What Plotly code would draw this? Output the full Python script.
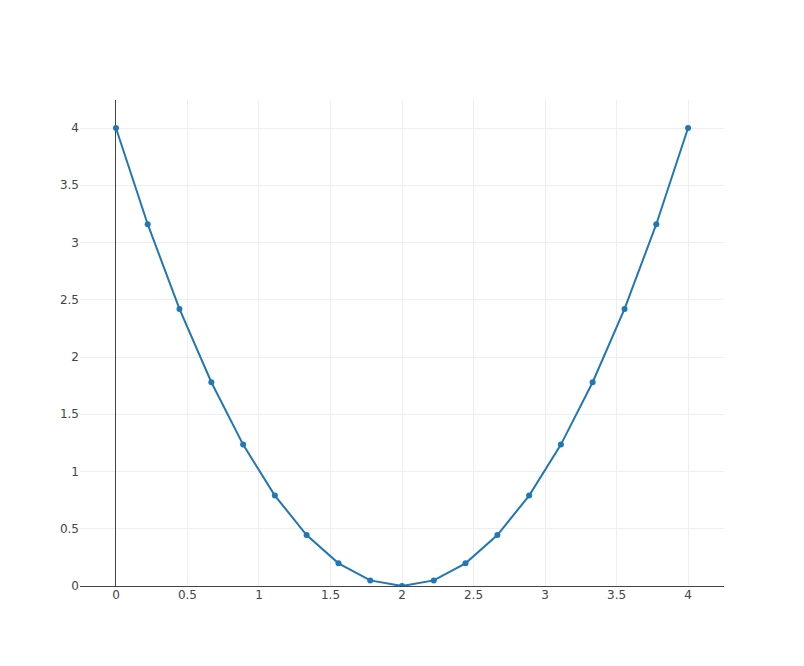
import plotly.graph_objects as go

x_values = [0, 0.222, 0.444, 0.667, 0.889, 1.111, 1.333, 1.556, 1.778, 2,
            2.222, 2.444, 2.667, 2.889, 3.111, 3.333, 3.556, 3.778, 4]
y_values = [4, 3.16, 2.42, 1.78, 1.235, 0.79, 0.445, 0.198, 0.049, 0,
            0.049, 0.198, 0.445, 0.79, 1.235, 1.78, 2.42, 3.16, 4]

fig = go.Figure(go.Scatter(x=x_values, y=y_values, mode="lines+markers"))
fig.update_layout(
    template="none",
    width=788, height=650,
    margin=dict(l=72, r=72, t=92, b=72),
    font=dict(family="DejaVu Sans, Verdana, sans-serif", size=12, color="#444"),
)
fig.update_yaxes(rangemode="tozero")
fig.write_html("out.html")
